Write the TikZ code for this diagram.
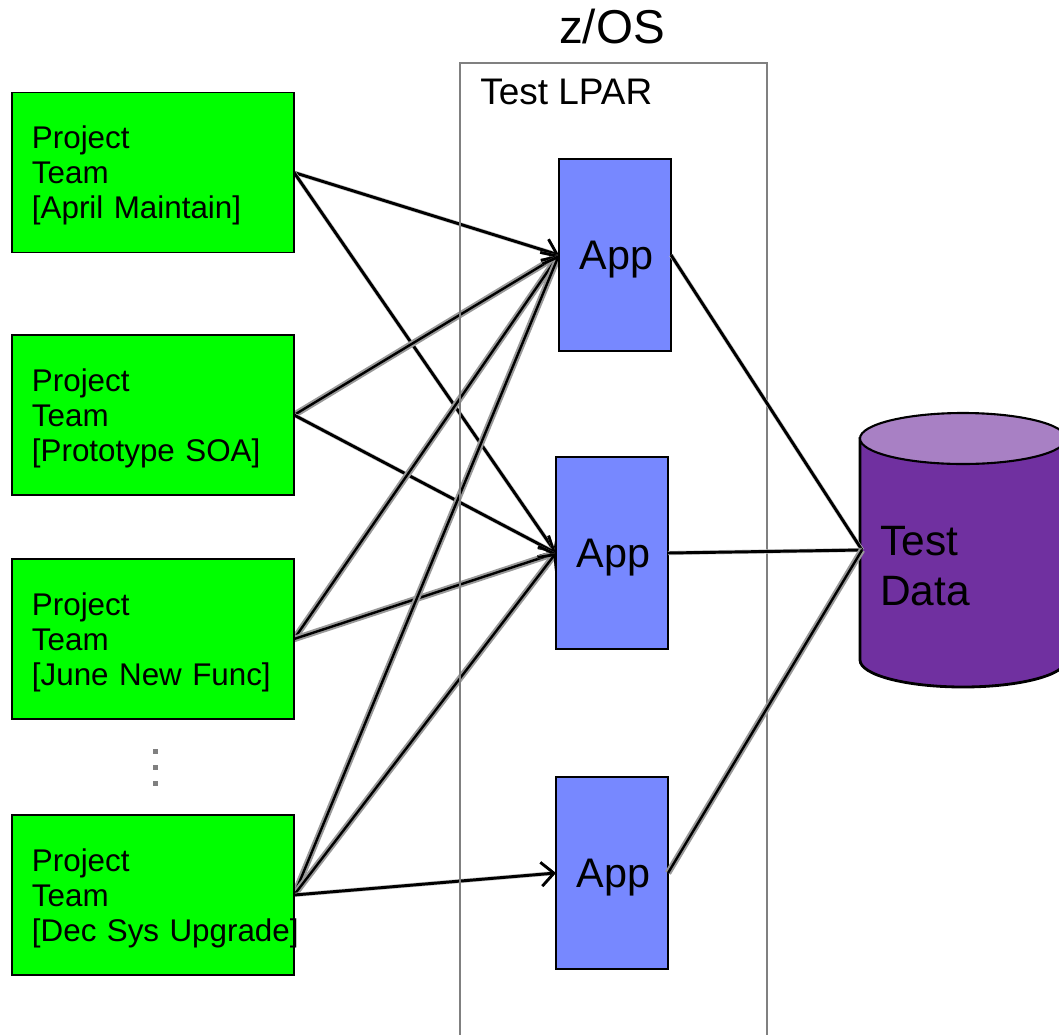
\documentclass[tikz,border=0pt]{standalone}
\usepackage{fontspec}
\setmainfont{Liberation Sans}
\usepackage{tikz}
\usetikzlibrary{arrows.meta, backgrounds}
\definecolor{teamgreen}{HTML}{00FF00}
\definecolor{appblue}{HTML}{7788FF}
\definecolor{datapurple}{HTML}{7030A0}
\definecolor{datatop}{HTML}{A880C4}
\tikzset{
  team/.style={draw=black, line width=1pt, fill=teamgreen, minimum height=4cm, text width=6.05cm, inner xsep=0.5cm, inner ysep=0pt, outer sep=0pt, align=left, font=\fontsize{22.3}{25}\selectfont, execute at begin node=\rule{0pt}{20.5pt}},
  app/.style={draw=black, line width=1pt, fill=appblue, minimum width=2.8cm, minimum height=4.8cm, inner sep=0pt, outer sep=0pt, text height=27pt, font=\fontsize{29.4}{34}\selectfont, execute at begin node=\hspace{2pt}},
  link/.style={black, line width=2.1pt, preaction={draw=gray!45, line width=3pt}},
  halolink/.style={black, line width=1.7pt, preaction={draw=gray!80, line width=4.6pt}},
  barb/.style={-{Straight Barb[length=9pt, width=17pt, line width=2pt]}}
}
\begin{document}
\begin{tikzpicture}[x=0.025cm, y=-0.025cm]
\clip (0,0) rectangle (1059,1034);

% LPAR frame
\draw[gray, line width=1pt] (460,1040) -- (460,63) -- (767,63) -- (767,1040);
\node[font=\fontsize{33.8}{38}\selectfont] (zos) at (612,27) {z/OS};
\node[anchor=west, inner sep=0pt, font=\fontsize{26.3}{30}\selectfont] (lpar) at (480,92) {Test LPAR};

% project teams
\node[team] (april) at (153,172.5) {Project\\Team\\{[April Maintain]}};
\node[team] (proto) at (153,415) {Project\\Team\\{[Prototype SOA]}};
\node[team] (june) at (153,639) {Project\\Team\\{[June New Func]}};
\node[team] (dec) at (153,895) {Project\\Team\\\mbox{[Dec Sys Upgrade]}};

% dots between teams
\fill[gray] (152.5,748.5) rectangle (157.5,753.5);
\fill[gray] (152.5,764.5) rectangle (157.5,769.5);
\fill[gray] (152.5,780.5) rectangle (157.5,785.5);

% apps
\node[app] (appa) at (615,255) {App};
\node[app] (appb) at (612,553) {App};
\node[app] (appc) at (612,873) {App};

% test data
\draw[line width=2pt, fill=datapurple] (860,438.5) -- (860,660) arc[start angle=180, end angle=0, x radius=103, y radius=27] -- (1066,438.5) -- cycle;
\draw[line width=1.5pt, fill=datatop] (963,438.5) ellipse (103 and 25.5);
\node[anchor=west, align=left, inner sep=0pt, font=\fontsize{30.2}{35.6}\selectfont] (datatext) at (880,566) {Test\\Data};
\coordinate (datawest) at (862,550);

% team to app, under the boxes
\begin{pgfonlayer}{background}
\draw[link, barb] (april.east) -- (appa.west);
\draw[link, barb] (april.east) -- (appb.west);
\draw[halolink, barb] (proto.east) -- (appa.west);
\draw[link, barb] (proto.east) -- (appb.west);
\draw[halolink, barb] (june.east) -- (appa.west);
\draw[halolink, barb] (june.east) -- (appb.west);
\draw[halolink, barb] (dec.east) -- (appa.west);
\draw[halolink, barb] (dec.east) -- (appb.west);
\draw[link, barb] (dec.east) -- (appc.west);
\end{pgfonlayer}

% app to data
\draw[link] (appa.east) -- (datawest);
\draw[link] (appb.east) -- (datawest);
\draw[halolink] (appc.east) -- (datawest);
\end{tikzpicture}
\end{document}
